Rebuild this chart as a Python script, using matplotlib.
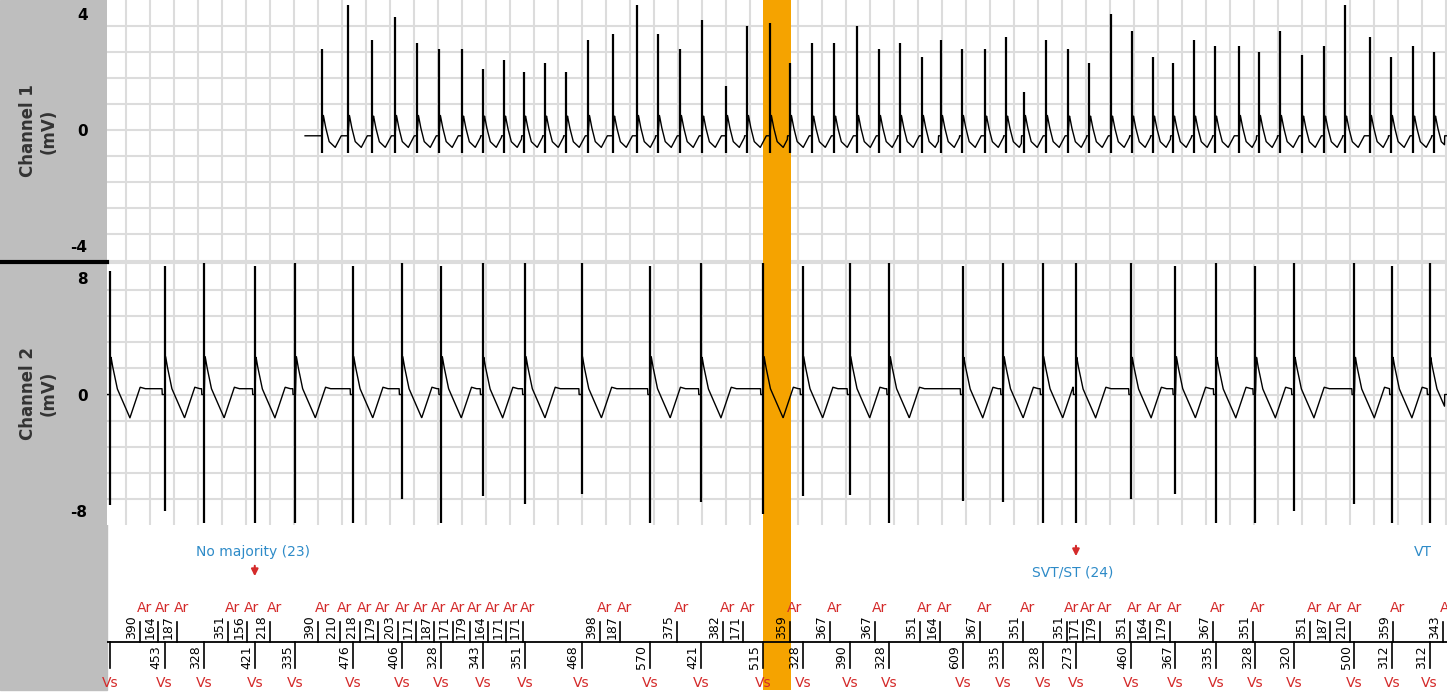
import numpy as np
import matplotlib.pyplot as plt
from matplotlib.patches import Rectangle

# --- data (time in ms) ---
vs_intervals = [453, 328, 421, 335, 476, 406, 328, 343, 351, 468, 570, 421, 515, 328,
                390, 328, 609, 335, 328, 273, 460, 367, 335, 328, 320, 500, 312, 312]
vs_times = np.concatenate([[0], np.cumsum(vs_intervals)])
ch2_pos = [8.5, 8.8, 9.0, 8.8, 9.0, 8.8, 9.0, 8.8, 9.0, 9.0, 9.0, 8.8, 9.0, 9.0,
           8.8, 9.0, 9.0, 8.8, 9.0, 9.0, 9.0, 9.0, 8.8, 9.0, 8.8, 9.0, 9.0, 8.8, 9.0]
ch2_neg = [-7.6, -8.0, -8.8, -8.8, -8.8, -8.8, -7.2, -8.8, -7.0, -7.5, -6.8, -8.8, -7.4, -8.2,
           -7.0, -6.9, -8.8, -7.3, -7.4, -8.8, -8.8, -7.2, -6.8, -8.8, -8.8, -8.0, -7.5, -8.8, -8.8]

ar_times = [249, 398, 555, 978, 1136, 1326, 1724, 1907, 2072, 2222, 2388, 2537, 2686, 2843,
            2984, 3134, 3283, 3424, 4062, 4228, 4700, 5082, 5248, 5637, 5969, 6342, 6715,
            6881, 7212, 7569, 7934, 8066, 8207, 8456, 8622, 8787, 9144, 9475, 9948, 10114,
            10280, 10636, 11050]
ar_labels = [390, 164, 187, 351, 156, 218, 390, 210, 218, 179, 203, 171, 187, 171, 179,
             164, 171, 171, 398, 187, 375, 382, 171, 359, 367, 367, 351, 164, 367, 351,
             351, 171, 179, 351, 164, 179, 367, 351, 351, 187, 210, 359, 343]

ch1_times = [1757, 1973, 2172, 2363, 2545, 2727, 2918, 3092, 3266, 3432, 3606, 3780, 3963,
             4170, 4369, 4543, 4725, 4908, 5107, 5281, 5471, 5637, 5820, 6002, 6193, 6375,
             6549, 6731, 6889, 7063, 7254, 7428, 7577, 7759, 7942, 8116, 8298, 8472, 8646,
             8812, 8986, 9160, 9359, 9525, 9699, 9882, 10064, 10238, 10445, 10619, 10802, 10976]
ch1_amp = [2.8, 4.3, 3.1, 3.9, 3.0, 2.8, 2.8, 2.1, 2.4, 2.0, 2.3, 2.0, 3.1, 3.3,
           4.3, 3.3, 2.8, 3.8, 1.5, 3.6, 3.7, 2.3, 3.0, 3.0, 3.6, 2.8, 3.0, 2.5, 3.1, 2.8,
           2.8, 3.2, 1.3, 3.1, 2.8, 2.3, 4.0, 3.4, 2.5, 2.3, 3.1, 2.9, 2.9, 2.7, 3.4, 2.6,
           2.9, 4.3, 3.2, 2.5, 2.9, 2.7]
ch1_start = 1617

highlight = (5413, 5645)
episodes = [("No majority (23)", 1185, "down"), ("SVT/ST (24)", 7983, "up"), ("VT", 10880, None)]

# beat shapes (offset ms, mV)
v_off = [-20, 0, 8, 20, 35, 60, 165, 250, 290]
v_val = [0, 0, 2.6, 2.0, 1.4, 0.4, -1.6, 0.5, 0.4]
a_off = [-10, 0, 12, 30, 60, 110, 160]
a_val = [0, 0, 0.7, 0.3, -0.2, -0.4, 0.0]

XMIN, XMAX = -25, 11084
W, H = 1451, 695
fig = plt.figure(figsize=(W / 100, H / 100), dpi=100)
fig.add_artist(Rectangle((0, 5 / H), 107 / W, 1 - 5 / H, transform=fig.transFigure,
                         color='#BEBEBE', zorder=-5))
fig.add_artist(plt.Line2D([0, 107 / W], [1 - 262 / H] * 2, transform=fig.transFigure,
                          color='black', lw=3))

L, Wd = 107 / W, 1340 / W
ax1 = fig.add_axes([L, 1 - 262 / H, Wd, 262 / H])
ax2 = fig.add_axes([L, 1 - 525 / H, Wd, 263 / H])
ax3 = fig.add_axes([L, 5 / H, Wd, 165 / H])

t = np.arange(XMIN, XMAX, 2.0)


def build(times, off, val, start=None):
    sig = np.zeros_like(t)
    ends = list(times[1:]) + [XMAX]
    for a, b in zip(times, ends):
        m = (t >= a - 20) & (t < b - 20)
        sig[m] = np.interp(t[m] - a, off, val)
    if start is not None:
        sig[t < start] = np.nan
    return sig


for ax, ylim, step in [(ax1, (-4.55, 4.48), 0.9), (ax2, (-8.96, 9.1), 1.8)]:
    ax.set_xlim(XMIN, XMAX)
    ax.set_ylim(*ylim)
    for v in np.arange(133, XMAX, 199):
        ax.axvline(v, color='#DCDCDC', lw=1.5, zorder=0)
    for v in np.concatenate([np.arange(0, ylim[1], step), np.arange(-step, ylim[0], -step)]):
        ax.axhline(v, color='#DCDCDC', lw=1.5, zorder=0)
    ax.axvspan(*highlight, color='#F5A300', zorder=1, lw=0)
    for s in ax.spines.values():
        s.set_visible(False)
    ax.set_xticks([])
    ax.tick_params(axis='y', length=0, pad=14)

# channel 1
sig1 = build(ch1_times, a_off, a_val, ch1_start)
sig1 += np.where(t >= ch1_start, -0.2, np.nan)
ax1.plot(t, sig1, color='black', lw=1.0, zorder=3)
ax1.vlines(ch1_times, -0.8, ch1_amp, color='black', lw=1.6, zorder=3)
ax1.set_yticks([-4, 0, 4])
ax1.set_yticklabels(['-4', '0', '4'], fontweight='bold', fontsize=11)

# channel 2
sig2 = build(vs_times, v_off, v_val)
ax2.plot(t, sig2, color='black', lw=1.0, zorder=3)
ax2.vlines(vs_times, ch2_neg, ch2_pos, color='black', lw=1.6, zorder=3)
ax2.set_yticks([-8, 0, 8])
ax2.set_yticklabels(['-8', '0', '8'], fontweight='bold', fontsize=11)

for name, yc in [('Channel 1\n(mV)', 131), ('Channel 2\n(mV)', 393)]:
    fig.text(38 / W, 1 - yc / H, name, rotation=90, ha='center', va='center',
             fontsize=12, fontweight='bold', color='#333333')

# marker channel (y in pixels above the bottom edge of this axes, bottom at 690)
ax3.set_xlim(XMIN, XMAX)
ax3.set_ylim(0, 165)
ax3.axis('off')
ax3.axvspan(*highlight, color='#F5A300', zorder=1, lw=0)
ax3.axhline(48, color='black', lw=1.3)
red = '#D42A2A'
for x, lab in zip(ar_times, ar_labels):
    ax3.plot([x, x], [48, 68], color='black', lw=1.2)
    ax3.text(x - 15, 51, str(lab), rotation=90, ha='right', va='bottom', fontsize=9)
    ax3.text(x + 35, 82, 'Ar', color=red, ha='center', va='center', fontsize=10, clip_on=True)
for i, x in enumerate(vs_times):
    ax3.plot([x, x], [48, 22], color='black', lw=1.2)
    if i > 0:
        ax3.text(x - 15, 45, str(vs_intervals[i - 1]), rotation=90, ha='right', va='top', fontsize=9)
    ax3.text(x, 7, 'Vs', color=red, ha='center', va='center', fontsize=10)
for label, x, arrow in episodes:
    ytxt = 117 if arrow == 'up' else 138
    ax3.text(x, ytxt, label, color='#2E8BC8', ha='center', va='center', fontsize=10, clip_on=True)
    if arrow == 'down':
        ax3.annotate('', xy=(x + 15, 111), xytext=(x + 15, 127),
                     arrowprops=dict(arrowstyle='-|>', color=red, lw=1.5))
    elif arrow == 'up':
        ax3.annotate('', xy=(x + 25, 131), xytext=(x + 25, 147),
                     arrowprops=dict(arrowstyle='-|>', color=red, lw=1.5))

fig.savefig('out.png', dpi=100)
